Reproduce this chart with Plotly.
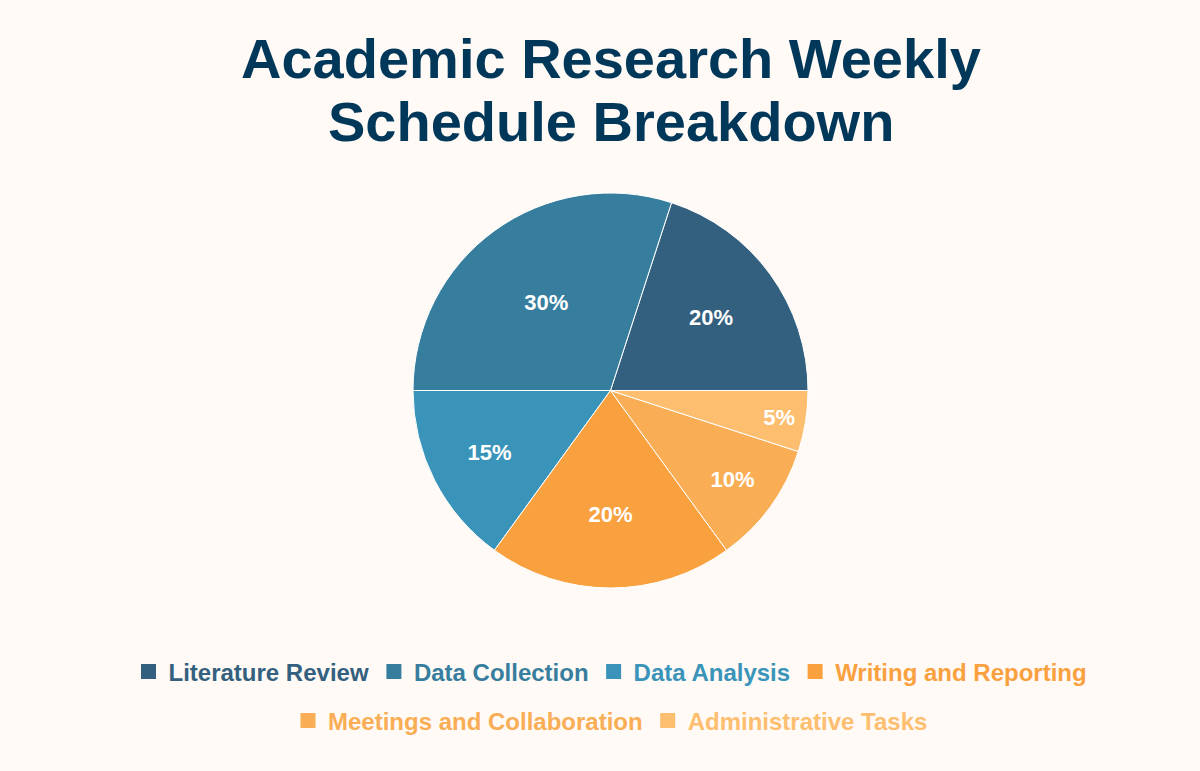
import plotly.graph_objects as go

categories = ["Literature Review", "Data Collection", "Data Analysis",
              "Writing and Reporting", "Meetings and Collaboration", "Administrative Tasks"]
values = [20, 30, 15, 20, 10, 5]
colors = ["#34607f", "#377e9e", "#3a94ba", "#f9a03f", "#f9ae55", "#fdbe70"]
title_lines = ["Academic Research Weekly", "Schedule Breakdown"]
legend_rows = [4, 2]  # number of entries per legend row

W, H = 1200, 771
BG = "#fffaf5"
FONT = "Liberation Sans, Arial, sans-serif"
CX = 610.5  # horizontal centre of the chart in px

fig = go.Figure()
fig.add_trace(go.Pie(
    labels=categories,
    values=values,
    sort=False,
    direction="counterclockwise",
    rotation=18,
    marker=dict(colors=colors, line=dict(color="#ffffff", width=1)),
    texttemplate="%{percent:.0%}",
    textposition="inside",
    insidetextorientation="horizontal",
    textfont=dict(family=FONT, size=22, color="white", weight="bold"),
    domain=dict(x=[(CX - 300) / W, (CX + 300) / W], y=[1 - 588 / H, 1 - 193 / H]),
    showlegend=False,
    hoverinfo="label+percent",
))

# legend entries (two centred rows, like the reference)
idx = 0
for row, n in enumerate(legend_rows):
    lg = "legend" if row == 0 else "legend%d" % (row + 1)
    for _ in range(n):
        fig.add_trace(go.Scatter(
            x=[None], y=[None], mode="markers",
            marker=dict(symbol="square", size=15, color=colors[idx]),
            name='<span style="color:%s">%s</span>' % (colors[idx], categories[idx]),
            legend=lg, showlegend=True, hoverinfo="skip",
        ))
        idx += 1

legend_common = dict(
    orientation="h", xanchor="center", x=CX / W, yanchor="middle",
    font=dict(family=FONT, size=24, weight="bold"),
    bgcolor="rgba(0,0,0,0)", itemclick=False, itemdoubleclick=False,
)

title_font = dict(family=FONT, size=56, color="#01385a", weight="bold")
annotations = []
for i, (line, y_px) in enumerate(zip(title_lines, [59, 121])):
    annotations.append(dict(
        text=line, x=CX / W, y=1 - y_px / H, xref="paper", yref="paper",
        xanchor="center", yanchor="middle", showarrow=False, font=title_font,
    ))

fig.update_layout(
    width=W, height=H,
    paper_bgcolor=BG, plot_bgcolor=BG,
    margin=dict(l=0, r=0, t=0, b=0),
    xaxis=dict(visible=False), yaxis=dict(visible=False),
    annotations=annotations,
    legend=dict(legend_common, y=1 - 672 / H),
    legend2=dict(legend_common, y=1 - 721 / H),
)

fig.write_html(
    "out.html",
    config={"displayModeBar": False},
    post_script="document.body.style.margin='0';document.body.style.background='%s';" % BG,
)
